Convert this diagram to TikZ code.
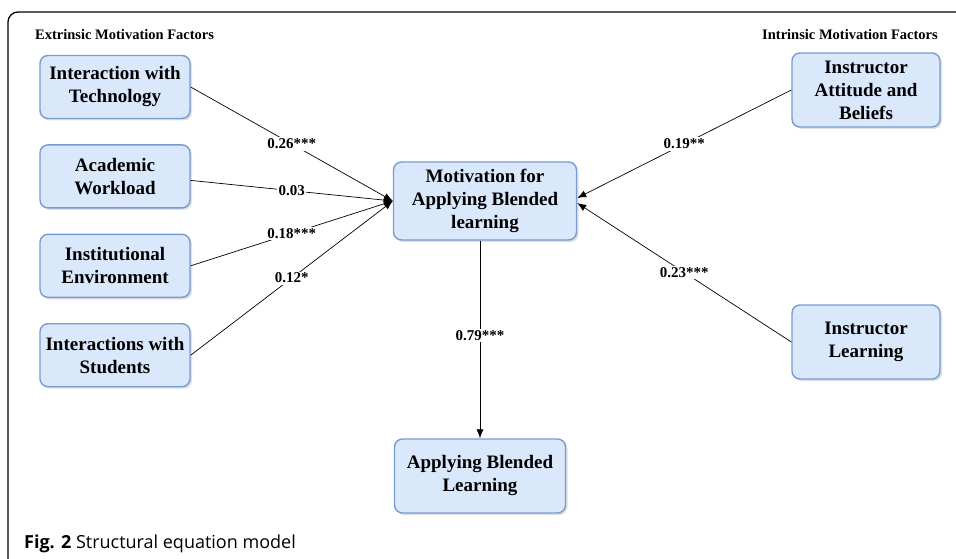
\documentclass[tikz,border=0pt]{standalone}
\usepackage{fontspec}
\setmainfont{Liberation Serif}
\newfontfamily\capfont{Open Sans}
\usepackage{xcolor}
\usetikzlibrary{arrows.meta,positioning,shadows}
\definecolor{boxfill}{RGB}{218,232,252}
\definecolor{boxline}{RGB}{120,156,206}

\begin{document}
\begin{tikzpicture}[
    x=1pt, y=-1pt,
    node distance=25pt and 25pt,
    factor/.style={draw=boxline, line width=1.4pt, rounded corners=8pt, fill=boxfill, align=center,
        minimum width=150pt, minimum height=63pt, inner sep=2pt,
        font=\fontsize{19}{23}\selectfont\bfseries,
        drop shadow={shadow xshift=2pt, shadow yshift=-2pt, opacity=0.25}},
    coef/.style={fill=white, inner sep=1.5pt, font=\fontsize{15}{17}\selectfont\bfseries},
    grp/.style={font=\fontsize{14.5}{16}\selectfont\bfseries, inner sep=0pt},
    arr/.style={-{Latex[length=9pt,width=7pt]}, line width=0.7pt}
]
\useasboundingbox (0,0) rectangle (956,559);
\draw[line width=1.3pt, rounded corners=10pt] (8,559) -- (8,12) -- (956,12);

% group headings
\node[grp, anchor=west] (ext) at (35,35) {Extrinsic Motivation Factors};
\node[grp, anchor=east] (int) at (938,35) {Intrinsic Motivation Factors};

% extrinsic factors
\node[factor] (tech) at (115,87) {Interaction with\\Technology};
\node[factor, below=of tech] (work) {Academic\\Workload};
\node[factor, below=of work] (env) {Institutional\\Environment};
\node[factor, below=of env] (stud) {Interactions with\\Students};

% intrinsic factors
\node[factor, minimum width=148pt, minimum height=74pt] (att) at (866,90) {Instructor\\Attitude and\\Beliefs};
\node[factor, minimum width=148pt, minimum height=74pt] (lrn) at (866,342) {Instructor\\Learning};

% outcome
\node[factor, minimum width=183pt, minimum height=78pt] (mot) at (485,201) {Motivation for\\Applying Blended\\learning};
\node[factor, minimum width=171pt, minimum height=74pt] (abl) at (480,476) {Applying Blended\\Learning};

\draw[arr] (tech.east) -- node[coef]{0.26***} (mot.west);
\draw[arr] ([yshift=-4pt]work.east) -- node[coef]{0.03} (mot.west);
\draw[arr] (env.east) -- node[coef]{0.18***} (mot.west);
\draw[arr] (stud.east) -- node[coef]{0.12*} (mot.west);
\draw[arr] (att.west) -- node[coef]{0.19**} ([yshift=3pt]mot.east);
\draw[arr] (lrn.west) -- node[coef]{0.23***} ([yshift=-2pt]mot.east);
\draw[arr] ([xshift=-5pt]mot.south) -- node[coef, pos=0.48]{0.79***} (abl.north);

\node[anchor=base west, inner sep=0pt, font=\capfont\fontsize{18}{20}\selectfont] (cap) at (24,548)
    {\textbf{Fig. 2} Structural equation model};
\end{tikzpicture}
\end{document}
